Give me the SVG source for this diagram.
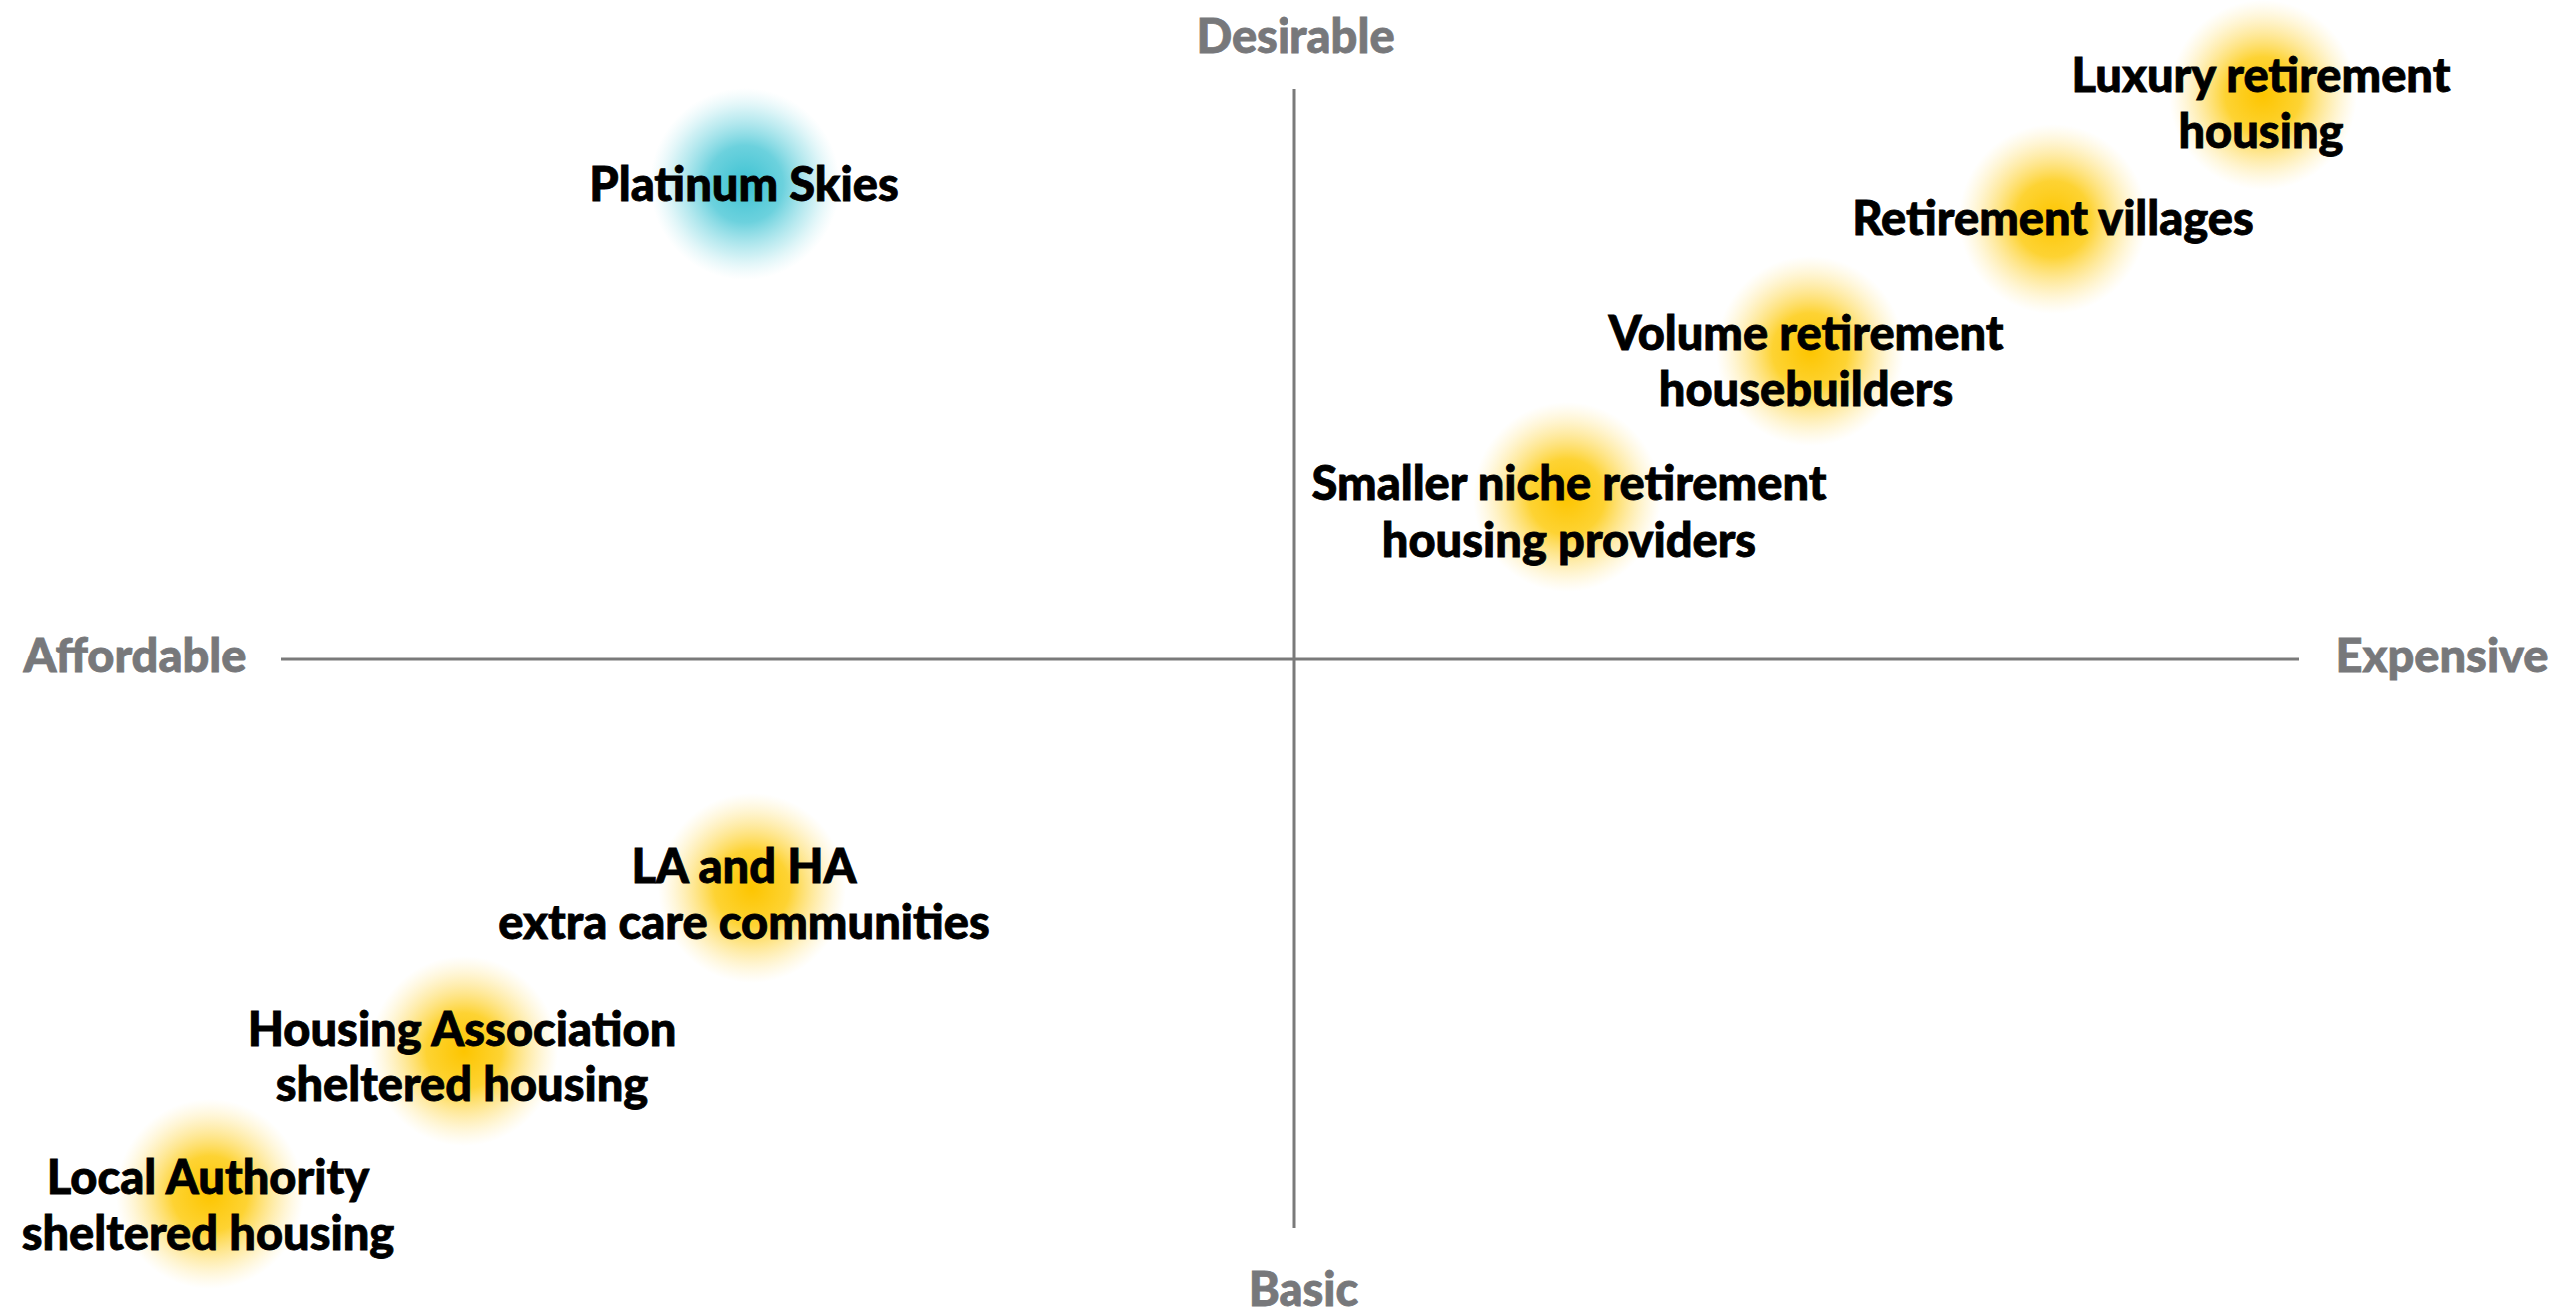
<svg xmlns="http://www.w3.org/2000/svg" width="2577" height="1313" viewBox="0 0 2577 1313">
  <style>
    .axis { stroke: #7a7a7a; stroke-width: 3; fill: none; }
    .axis-label { font-family: Lato, "Liberation Sans", sans-serif; font-weight: 900; font-size: 47px; fill: #77787b; stroke: #77787b; stroke-width: 0.8; text-anchor: middle; }
    .label { font-family: Lato, "Liberation Sans", sans-serif; font-weight: 900; font-size: 47px; fill: #000000; stroke: #000000; stroke-width: 0.8; text-anchor: middle; }
  </style>
  <defs>
    <radialGradient id="glow-gold">
      <stop offset="0" stop-color="#fdc500" stop-opacity="1"/>
      <stop offset="0.4" stop-color="#fdc800" stop-opacity="0.8"/>
      <stop offset="0.75" stop-color="#fed440" stop-opacity="0.33"/>
      <stop offset="1" stop-color="#ffe27a" stop-opacity="0"/>
    </radialGradient>
    <radialGradient id="glow-teal">
      <stop offset="0" stop-color="#3cc2d2" stop-opacity="1"/>
      <stop offset="0.4" stop-color="#47c6d5" stop-opacity="0.8"/>
      <stop offset="0.75" stop-color="#6ad2de" stop-opacity="0.33"/>
      <stop offset="1" stop-color="#9fe2ea" stop-opacity="0"/>
    </radialGradient>
  </defs>
  <rect width="2577" height="1313" fill="#ffffff"/>

  <!-- axes -->
  <g id="connectors">
    <line class="axis" x1="281" y1="660" x2="2300" y2="660"/>
    <line class="axis" x1="1295" y1="89" x2="1295" y2="1229"/>
  </g>

  <!-- axis labels -->
  <g id="axis-labels">
    <text class="axis-label" x="1296" y="53">Desirable</text>
    <text class="axis-label" x="1304" y="1307">Basic</text>
    <text class="axis-label" x="135" y="673">Affordable</text>
    <text class="axis-label" x="2443" y="673">Expensive</text>
  </g>

  <g id="platinum-skies">
    <ellipse cx="745" cy="184" rx="95" ry="96" fill="url(#glow-teal)"/>
    <text class="label" x="744" y="201">Platinum Skies</text>
  </g>

  <g id="luxury-retirement-housing">
    <ellipse cx="2264" cy="95" rx="94" ry="95" fill="url(#glow-gold)"/>
    <text class="label" x="2262" y="92">Luxury retirement</text>
    <text class="label" x="2262" y="148">housing</text>
  </g>

  <g id="retirement-villages">
    <ellipse cx="2054" cy="219" rx="94" ry="95" fill="url(#glow-gold)"/>
    <text class="label" x="2054" y="235">Retirement villages</text>
  </g>

  <g id="volume-retirement-housebuilders">
    <ellipse cx="1811" cy="351" rx="94" ry="95" fill="url(#glow-gold)"/>
    <text class="label" x="1807" y="350">Volume retirement</text>
    <text class="label" x="1807" y="406">housebuilders</text>
  </g>

  <g id="smaller-niche-providers">
    <ellipse cx="1568" cy="497" rx="94" ry="95" fill="url(#glow-gold)"/>
    <text class="label" x="1570" y="500">Smaller niche retirement</text>
    <text class="label" x="1570" y="557">housing providers</text>
  </g>

  <g id="la-ha-extra-care">
    <ellipse cx="752" cy="889" rx="94" ry="95" fill="url(#glow-gold)"/>
    <text class="label" x="744" y="884">LA and HA</text>
    <text class="label" x="744" y="940">extra care communities</text>
  </g>

  <g id="housing-association-sheltered">
    <ellipse cx="464" cy="1052" rx="94" ry="95" fill="url(#glow-gold)"/>
    <text class="label" x="462" y="1047">Housing Association</text>
    <text class="label" x="462" y="1102">sheltered housing</text>
  </g>

  <g id="local-authority-sheltered">
    <ellipse cx="210" cy="1195" rx="94" ry="95" fill="url(#glow-gold)"/>
    <text class="label" x="208" y="1195">Local Authority</text>
    <text class="label" x="208" y="1251">sheltered housing</text>
  </g>
</svg>
